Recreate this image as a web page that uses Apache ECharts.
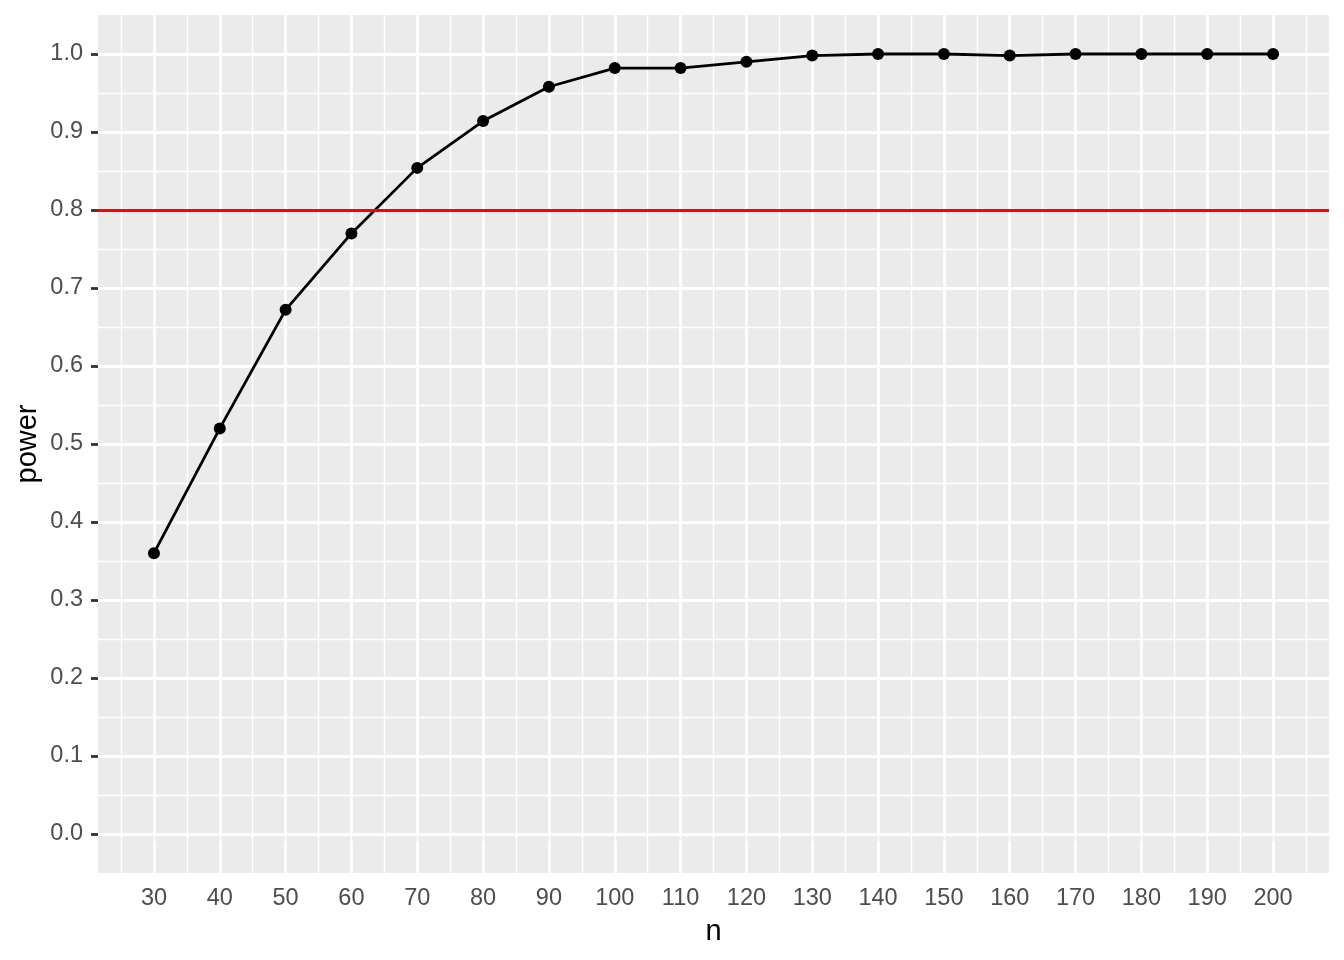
<!DOCTYPE html>
<html>
<head>
<meta charset="utf-8">
<script src="https://cdn.jsdelivr.net/npm/echarts@6/dist/echarts.min.js"></script>
<style>
html,body{margin:0;padding:0;background:#fff;}
#chart{width:1344px;height:960px;}
</style>
</head>
<body>
<div id="chart"></div>
<script>
// sample sizes and estimated power
var nValues = [30, 40, 50, 60, 70, 80, 90, 100, 110, 120, 130, 140, 150, 160, 170, 180, 190, 200];
var powerValues = [0.36, 0.52, 0.672, 0.77, 0.854, 0.914, 0.958, 0.982, 0.982, 0.99, 0.998, 1.0, 1.0, 0.998, 1.0, 1.0, 1.0, 1.0];
var targetPower = 0.8;

// axis breaks
var xBreaks = [30, 40, 50, 60, 70, 80, 90, 100, 110, 120, 130, 140, 150, 160, 170, 180, 190, 200];
var xMinorBreaks = [25, 35, 45, 55, 65, 75, 85, 95, 105, 115, 125, 135, 145, 155, 165, 175, 185, 195, 205];
var yBreaks = [0, 0.1, 0.2, 0.3, 0.4, 0.5, 0.6, 0.7, 0.8, 0.9, 1.0];
var yMinorBreaks = [0.05, 0.15, 0.25, 0.35, 0.45, 0.55, 0.65, 0.75, 0.85, 0.95];
var xLimits = [21.5, 208.5];
var yLimits = [-0.05, 1.05];

var FONT = 'Liberation Sans, Arial, sans-serif';
var chart = echarts.init(document.getElementById('chart'), null, {renderer: 'canvas'});

function vLines(vals) { return vals.map(function (v) { return {xAxis: v}; }); }
function hLines(vals) { return vals.map(function (v) { return {yAxis: v}; }); }

var tickStyle = {color: '#333333', width: 2.8};
var labelStyle = {color: '#4D4D4D', fontSize: 23.5, fontFamily: FONT};

chart.setOption({
  animation: false,
  backgroundColor: '#ffffff',
  grid: {
    left: 98, right: 15, top: 15, bottom: 87,
    show: true, backgroundColor: '#EBEBEB', borderWidth: 0,
    containLabel: false, outerBoundsMode: 'none'
  },
  xAxis: {
    type: 'value',
    min: xLimits[0], max: xLimits[1],
    name: 'n', nameLocation: 'middle', nameGap: 44, nameMoveOverlap: false,
    nameTextStyle: {color: '#000000', fontSize: 29, fontFamily: FONT},
    axisLine: {show: false},
    splitLine: {show: false},
    axisTick: {show: true, length: 7, lineStyle: tickStyle, customValues: xBreaks},
    axisLabel: Object.assign({margin: 14, customValues: xBreaks,
      formatter: function (v) { return String(v); }}, labelStyle)
  },
  yAxis: {
    type: 'value',
    min: yLimits[0], max: yLimits[1],
    name: 'power', nameLocation: 'middle', nameGap: 56, nameMoveOverlap: false,
    nameTextStyle: {color: '#000000', fontSize: 29, fontFamily: FONT},
    axisLine: {show: false},
    splitLine: {show: false},
    axisTick: {show: true, length: 7, lineStyle: tickStyle, customValues: yBreaks},
    axisLabel: Object.assign({margin: 15, customValues: yBreaks,
      formatter: function (v) { return Number(v).toFixed(1); }}, labelStyle)
  },
  series: [
    {
      name: 'minorGrid', type: 'line', data: [], silent: true, z: 1,
      markLine: {
        silent: true, z: 1, symbol: ['none', 'none'], label: {show: false},
        emphasis: {disabled: true},
        lineStyle: {color: '#ffffff', width: 1.4, type: 'solid'},
        data: vLines(xMinorBreaks).concat(hLines(yMinorBreaks))
      }
    },
    {
      name: 'majorGrid', type: 'line', data: [], silent: true, z: 1,
      markLine: {
        silent: true, z: 2, symbol: ['none', 'none'], label: {show: false},
        emphasis: {disabled: true},
        lineStyle: {color: '#ffffff', width: 2.8, type: 'solid'},
        data: vLines(xBreaks).concat(hLines(yBreaks))
      }
    },
    {
      name: 'power', type: 'line', z: 10,
      data: nValues.map(function (n, i) { return [n, powerValues[i]]; }),
      symbol: 'circle', symbolSize: 12, showSymbol: true,
      itemStyle: {color: '#000000'},
      lineStyle: {color: '#000000', width: 2.8},
      emphasis: {disabled: true},
      markLine: {
        silent: true, z: 12, symbol: ['none', 'none'], label: {show: false},
        emphasis: {disabled: true},
        lineStyle: {color: '#FF0000', width: 2.8, type: 'solid'},
        data: [{yAxis: targetPower}]
      }
    }
  ]
});
</script>
</body>
</html>
